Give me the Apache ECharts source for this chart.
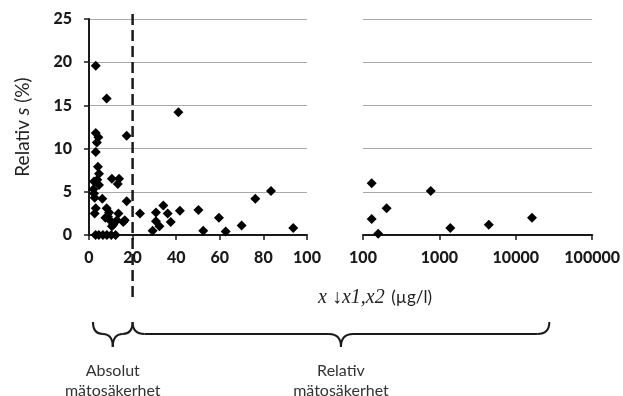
<!DOCTYPE html>
<html><head><meta charset="utf-8">
<script src="https://cdn.jsdelivr.net/npm/echarts@6/dist/echarts.min.js"></script>
<style>html,body{margin:0;padding:0;background:#fff}#c{width:623px;height:396px}</style>
</head><body><div id="c"></div>
<script>
// Linear panel (0-100 µg/l)
const linX = [3.1, 8.1, 41, 17.3, 3.1, 4.3, 3.6, 3.1, 4.1, 4.6, 2.3, 3.8, 4.6, 2.0, 2.3, 2.6, 6.1,
  10.5, 13.8, 13.2, 17.3, 3.1, 2.6, 8.1, 9.2, 7.5, 8.7, 9.6, 10.5, 13.5, 12.8, 16.4, 11.1, 15.7,
  3.0, 4.5, 6.4, 8.2, 10.2, 12.2,
  23.4, 29.2, 30.7, 30.7, 32.3, 34.1, 36.1, 37.5, 41.7, 50.2, 52.4, 59.6, 62.7, 70, 76.3, 83.5, 93.7];
const linY = [19.6, 15.8, 14.2, 11.5, 11.8, 11.3, 10.7, 9.6, 7.9, 7.1, 6.2, 6.4, 5.8, 5.3, 4.8, 4.3, 4.2,
  6.5, 6.5, 5.9, 3.9, 3.1, 2.5, 3.1, 2.6, 2.0, 2.1, 1.7, 1.0, 2.5, 1.7, 1.7, 1.2, 1.5,
  0, 0, 0, 0, 0, 0,
  2.5, 0.5, 2.6, 1.6, 1.0, 3.4, 2.5, 1.5, 2.8, 2.9, 0.5, 2.0, 0.4, 1.1, 4.2, 5.1, 0.8];
// Log panel (100-100000 µg/l)
const logX = [130, 130, 158, 204, 771, 1390, 4436, 16300];
const logY = [6.0, 1.85, 0.15, 3.1, 5.1, 0.8, 1.2, 2.0];
// Boundary between absolute and relative uncertainty
const splitX = 20;
const braceLabels = ['Absolut\nmätosäkerhet', 'Relativ\nmätosäkerhet'];

const pair = (xs, ys) => xs.map((x, i) => [x, ys[i]]);
const ink = '#1a1a1a';
const gridCol = '#a9a9a9';
const lbl = {fontFamily: 'Lato', fontWeight: 900, fontSize: 16, color: ink};

const chart = echarts.init(document.getElementById('c'), null, {renderer: 'canvas'});
chart.setOption({
  animation: false,
  grid: [
    {left: 89, top: 19, width: 218, height: 216},
    {left: 363, top: 19, width: 230, height: 216}
  ],
  xAxis: [
    {gridIndex: 0, type: 'value', min: 0, max: 100, interval: 20,
      axisLine: {lineStyle: {color: ink, width: 2}},
      axisTick: {show: true, length: 5, lineStyle: {color: ink, width: 1.5}},
      axisLabel: Object.assign({margin: 15}, lbl),
      splitLine: {show: false}},
    {gridIndex: 1, type: 'log', logBase: 10, min: 100, max: 100000,
      axisLine: {lineStyle: {color: ink, width: 2}},
      axisTick: {show: true, length: 5, lineStyle: {color: ink, width: 1.5}},
      axisLabel: Object.assign({margin: 15, formatter: v => String(Math.round(v))}, lbl),
      splitLine: {show: false}, minorTick: {show: false}}
  ],
  yAxis: [
    {gridIndex: 0, type: 'value', min: 0, max: 25, interval: 5,
      axisLine: {show: true, lineStyle: {color: ink, width: 2}},
      axisTick: {show: true, length: 5, lineStyle: {color: ink, width: 1.5}},
      axisLabel: Object.assign({margin: 17}, lbl),
      splitLine: {show: true, lineStyle: {color: gridCol, width: 1}},
      name: '{a|Relativ }{b|s}{a| (%)}', nameLocation: 'middle', nameGap: 57, nameRotate: 90,
      nameTextStyle: {rich: {
        a: {fontFamily: 'Lato', fontSize: 19, color: '#222'},
        b: {fontFamily: 'Lato', fontSize: 19, fontStyle: 'italic', color: '#222'}
      }}},
    {gridIndex: 1, type: 'value', min: 0, max: 25, interval: 5,
      axisLine: {show: false}, axisTick: {show: false}, axisLabel: {show: false},
      splitLine: {show: true, lineStyle: {color: gridCol, width: 1}}}
  ],
  series: [
    {type: 'scatter', xAxisIndex: 0, yAxisIndex: 0, data: pair(linX, linY),
      symbol: 'diamond', symbolSize: 10, itemStyle: {color: '#000', opacity: 1}},
    {type: 'scatter', xAxisIndex: 1, yAxisIndex: 1, data: pair(logX, logY),
      symbol: 'diamond', symbolSize: 10, itemStyle: {color: '#000', opacity: 1}}
  ]
});

// Annotations positioned through the axes
const xs = chart.convertToPixel({gridIndex: 0}, [splitX, 0])[0];
const xa = chart.convertToPixel({gridIndex: 0}, [1.8, 0])[0];
const xe = chart.convertToPixel({gridIndex: 1}, [27500, 0])[0];
const yT = 322, yM = 334, yB = 347;
const braceStyle = {stroke: ink, lineWidth: 2, fill: null};
function brace(x0, x1, r) {
  const xm = (x0 + x1) / 2;
  const q = (ax, ay, cx, cy, bx, by) => ({type: 'bezierCurve',
    shape: {x1: ax, y1: ay, cpx1: cx, cpy1: cy, x2: bx, y2: by}, style: braceStyle});
  const l = (ax, bx) => ({type: 'line', shape: {x1: ax, y1: yM, x2: bx, y2: yM}, style: braceStyle});
  const out = [
    q(x0, yT, x0, yM, x0 + r, yM),
    q(xm - r, yM, xm, yM, xm, yB),
    q(xm, yB, xm, yM, xm + r, yM),
    q(x1 - r, yM, x1, yM, x1, yT)
  ];
  if (xm - r > x0 + r) { out.push(l(x0 + r, xm - r)); out.push(l(xm + r, x1 - r)); }
  return out;
}
const txtStyle = {fontFamily: 'Lato', fontSize: 16, fill: '#333', align: 'center', verticalAlign: 'middle', lineHeight: 20};
chart.setOption({graphic: [
  {type: 'line', shape: {x1: xs, y1: 14, x2: xs, y2: 302}, style: {stroke: ink, lineWidth: 2.5, lineDash: [11, 5]}, z: 10},
  ...brace(xa, xs, 10),
  ...brace(xs, xe, 12),
  {type: 'text', x: (xa + xs) / 2, y: 381, style: Object.assign({text: braceLabels[0]}, txtStyle)},
  {type: 'text', x: (xs + xe) / 2, y: 381, style: Object.assign({text: braceLabels[1]}, txtStyle)},
  {type: 'text', x: 375, y: 298, style: {
    text: '{i|x ↓x1,x2}  {n|(µg/l)}', align: 'center', verticalAlign: 'middle',
    rich: {
      i: {fontFamily: 'Liberation Serif', fontStyle: 'italic', fontSize: 20, fill: '#222'},
      n: {fontFamily: 'Lato', fontSize: 17, fill: '#222'}
    }}}
]});
</script></body></html>
